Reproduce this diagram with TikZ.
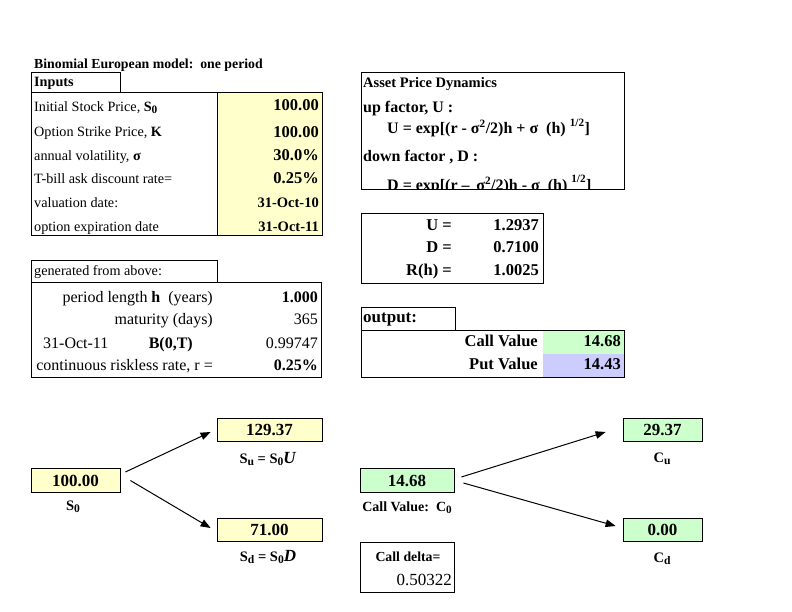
\documentclass[tikz,border=0pt]{standalone}
\usepackage{fontspec}
\setmainfont{Liberation Serif}
\usepackage{tikz}
\usetikzlibrary{arrows.meta, positioning, calc}
\definecolor{cellyellow}{HTML}{FFFFCC}
\definecolor{cellgreen}{HTML}{CCFFCC}
\definecolor{cellpurple}{HTML}{CCCCFF}

\newcommand{\fs}[1]{\fontsize{#1}{#1}\selectfont}
\newcommand{\dn}[1]{\raisebox{-0.35ex}{\scalebox{0.8}{#1}}}

\begin{document}
\begin{tikzpicture}[x=1pt, y=-1pt,
    grid line/.style={draw, line width=0.8pt},
    lbl/.style={anchor=base west, inner sep=0, font=\fs{14.2}},
    rlbl/.style={anchor=base east, inner sep=0, font=\fs{16}},
    val/.style={anchor=base east, inner sep=0, font=\bfseries\fs{16.5}},
    hdr/.style={anchor=base west, inner sep=0, font=\bfseries\fs{16}},
    treebox/.style={draw, line width=0.8pt, inner sep=0, minimum height=23.5pt,
        font=\bfseries\fs{17}},
    treelbl/.style={anchor=base, inner sep=0, font=\bfseries\fs{14.5}},
    arr/.style={-{Triangle[length=10pt, width=7.5pt]}, line width=1pt},
]
    \useasboundingbox (0,0) rectangle (792,612);

    % Inputs table
    \node[anchor=base west, inner sep=0, font=\bfseries\fs{13.8}] (title) at (34,69)
        {Binomial European model:\ \ one period};
    \draw[grid line] (31,72) rectangle (120,92);
    \node[anchor=base west, inner sep=0, font=\bfseries\fs{14.2}] (inputs) at (34,87) {Inputs};
    \fill[cellyellow] (217,92) rectangle (322,235);
    \draw[grid line] (31,92) rectangle (322,235);
    \draw[grid line] (217,92) -- (217,235);
    \node[lbl] (spot) at (34,111.5) {Initial Stock Price, \textbf{S\dn{0}}};
    \node[lbl] (strike) at (34,137) {Option Strike Price, \textbf{K}};
    \node[lbl] (vol) at (34,160.5) {annual volatility, \textbf{σ}};
    \node[lbl] (tbill) at (34,184) {T-bill ask discount rate=};
    \node[lbl] (valdate) at (34,207.5) {valuation date:};
    \node[lbl] (expdate) at (34,231.5) {option expiration date};
    \node[val] (spotv) at (319,111) {100.00};
    \node[val] (strikev) at (319,138) {100.00};
    \node[val] (volv) at (319,161) {30.0\%};
    \node[val] (tbillv) at (319,184) {0.25\%};
    \node[val, font=\bfseries\fs{14.5}] (valdatev) at (319,208) {31-Oct-10};
    \node[val, font=\bfseries\fs{14.5}] (expdatev) at (319,232) {31-Oct-11};

    % Generated table
    \draw[grid line] (31,260) rectangle (217,282);
    \node[lbl] (gen) at (34,276) {generated from above:};
    \draw[grid line] (31,282) rectangle (321,377);
    \node[rlbl] (period) at (213,302) {period length \textbf{h}\ \ (years)};
    \node[rlbl] (days) at (213,324) {maturity (days)};
    \node[anchor=base west, inner sep=0, font=\fs{16}] (bdate) at (43,348) {31-Oct-11};
    \node[rlbl, font=\bfseries\fs{16}] (bond) at (193,348) {B(0,T)};
    \node[rlbl] (rate) at (213,370) {continuous riskless rate, r =};
    \node[val, font=\bfseries\fs{16}] (periodv) at (318,302) {1.000};
    \node[rlbl] (daysv) at (318,324) {365};
    \node[rlbl] (bondv) at (318,348) {0.99747};
    \node[val, font=\bfseries\fs{16}] (ratev) at (318,370) {0.25\%};

    % Asset price dynamics
    \draw[grid line] (361,72) rectangle (624,189);
    \node[anchor=base west, inner sep=0, font=\bfseries\fs{14.5}] (dyn) at (363,88) {Asset Price Dynamics};
    \node[hdr] (upf) at (363,113) {up factor, U :};
    \node[hdr] (upeq) at (387,134)
        {U = exp[(r - σ\textsuperscript{2}/2)h + σ\ \ (h)\ \raisebox{0.2ex}{\textsuperscript{1/2}}]};
    \node[hdr] (dnf) at (363,162) {down factor , D :};
    \begin{scope}
        \clip (361,72) rectangle (624,188.5);
        \node[hdr] (dneq) at (387,190.5)
            {D = exp[(r -- \,σ\textsuperscript{2}/2)h - σ\ \ (h)\ \raisebox{0.2ex}{\textsuperscript{1/2}}]};
    \end{scope}

    % Factors
    \draw[grid line] (361,213) rectangle (543,283);
    \node[val] (ulbl) at (452,231) {U =};
    \node[val] (dlbl) at (452,253) {D =};
    \node[val] (rlbl) at (452,276) {R(h) =};
    \node[val] (uv) at (539,231) {1.2937};
    \node[val] (dv) at (539,253) {0.7100};
    \node[val] (rv) at (539,276) {1.0025};

    % Output table
    \draw[grid line] (361,307) rectangle (455,330);
    \node[hdr, font=\bfseries\fs{17}] (out) at (363,322) {output:};
    \fill[cellgreen] (543,330) rectangle (624,354);
    \fill[cellpurple] (543,354) rectangle (624,377);
    \draw[grid line] (361,330) rectangle (624,377);
    \node[val] (calll) at (538,346) {Call Value};
    \node[val] (putl) at (538,369) {Put Value};
    \node[val] (callv) at (621,346) {14.68};
    \node[val] (putv) at (621,369) {14.43};

    % Stock tree
    \node[treebox, fill=cellyellow, minimum width=89pt] (s0) at (75.5,480.5) {100.00};
    \node[treebox, fill=cellyellow, minimum width=105pt] (su) at (269.5,430) {129.37};
    \node[treebox, fill=cellyellow, minimum width=105pt] (sd) at (269.5,530) {71.00};
    \node[treelbl] (s0lbl) at (73,510) {S\dn{0}};
    \node[treelbl] (sulbl) at (268,463) {S\dn{u} = S\dn{0}{\fs{17}\textit{U}}};
    \node[treelbl] (sdlbl) at (268,561) {S\dn{d} = S\dn{0}{\fs{17}\textit{D}}};
    \draw[arr] ([shift={(5,-8.5)}]s0.east) -- ([shift={(-6,2)}]su.west);
    \draw[arr] ([shift={(10,0)}]s0.east) -- ([shift={(-6,-2)}]sd.west);

    % Call tree
    \node[treebox, fill=cellgreen, minimum width=94pt] (c0) at (407,480.5) {14.68};
    \node[treebox, fill=cellgreen, minimum width=79pt] (cu) at (662.5,430) {29.37};
    \node[treebox, fill=cellgreen, minimum width=79pt] (cd) at (662.5,530) {0.00};
    \node[treelbl, font=\bfseries\fs{14}] (c0lbl) at (407,511) {Call Value:\ \ C\dn{0}};
    \node[treelbl] (culbl) at (662,462) {C\dn{u}};
    \node[treelbl] (cdlbl) at (662,562) {C\dn{d}};
    \draw[arr] ([shift={(7,-3.5)}]c0.east) -- ([shift={(-17,2)}]cu.west);
    \draw[arr] ([shift={(9,2.5)}]c0.east) -- ([shift={(-7,-4)}]cd.west);

    % Call delta
    \draw[grid line] (360,542) rectangle (454,592);
    \node[treelbl, font=\bfseries\fs{13.8}] (delta) at (408,561) {Call delta=};
    \node[rlbl, font=\fs{17}] (deltav) at (452,585) {0.50322};
\end{tikzpicture}
\end{document}
